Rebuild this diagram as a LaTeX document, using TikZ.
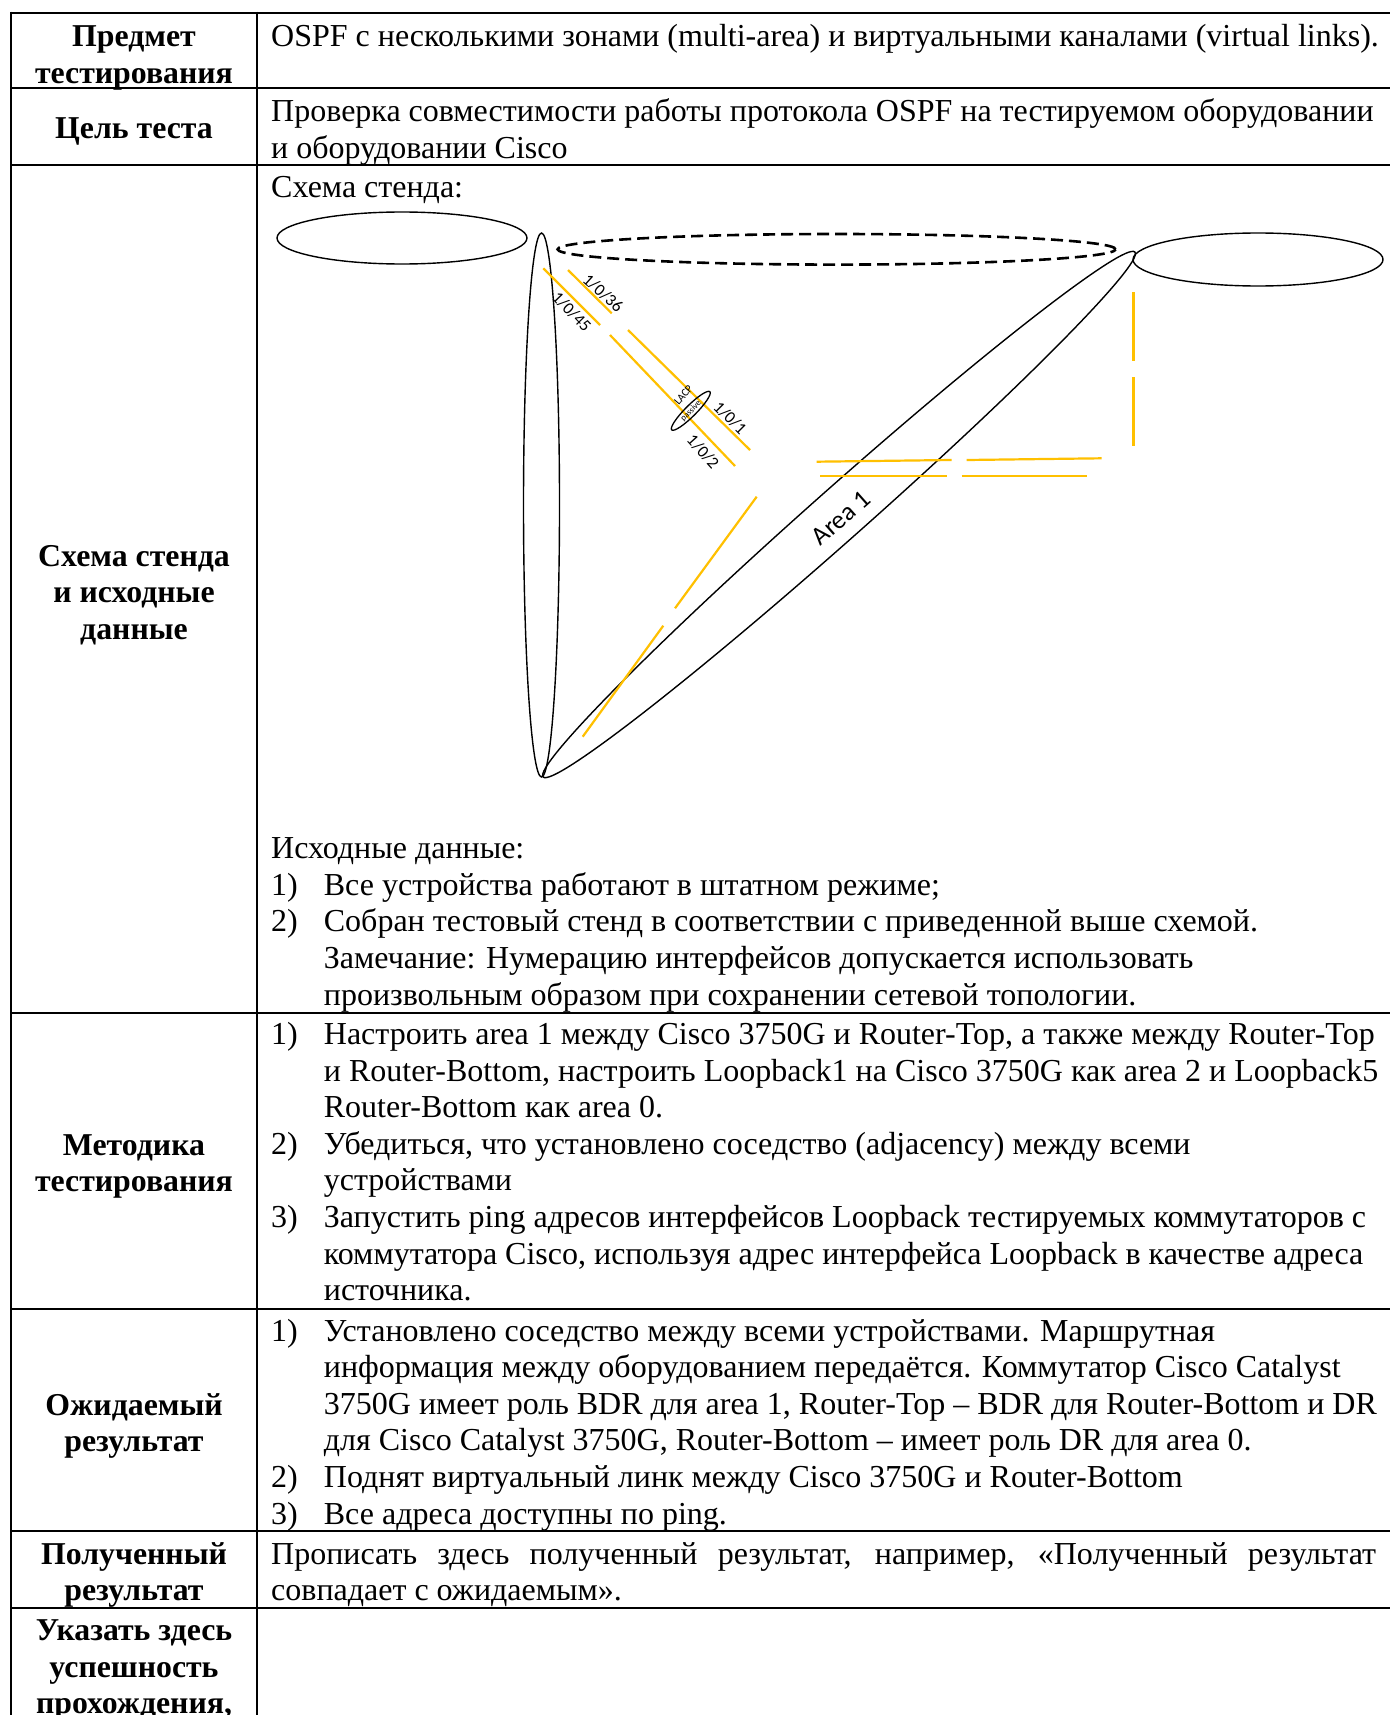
\documentclass[tikz,border=0pt]{standalone}
\usepackage{fontspec}
\setmainfont{Liberation Serif}
\newfontfamily\carl{Carlito}
\usetikzlibrary{shapes.geometric}
\definecolor{gold}{RGB}{255,192,0}
\begin{document}
\begin{tikzpicture}[x=1pt,y=1pt,
  gridline/.style={line width=2.6pt},
  hdr/.style={font=\fontsize{31.8}{36.6}\selectfont\bfseries, anchor=base, inner sep=0pt},
  txt/.style={font=\fontsize{32}{36.6}\selectfont, anchor=base west, inner sep=0pt},
  oval/.style={draw, ellipse, line width=1.4pt, inner sep=0pt, outer sep=0pt},
  link/.style={draw=gold, line width=2.2pt},
  plbl/.style={font=\carl\fontsize{17}{17}\selectfont, inner sep=0pt},
]
\useasboundingbox (0,0) rectangle (1390,-1715);
\fill[white] (0,0) rectangle (1390,-1715);

% ---------- table grid ----------
\draw[gridline] (11,-13) -- (1390,-13);
\foreach \yy in {88,165,1013,1309,1531,1608}
  \draw[gridline] (11,-\yy) -- (1390,-\yy);
\draw[gridline] (11,-11.7) -- (11,-1715);
\draw[gridline] (257,-11.7) -- (257,-1715);

% ---------- headers ----------
\node[hdr] (h1a) at (134,-46.5) {Предмет};
\node[hdr] (h1b) at (134,-83.1) {тестирования};
\node[hdr] (h2)  at (134,-139) {Цель теста};
\node[hdr] (h3a) at (134,-566) {Схема стенда};
\node[hdr] (h3b) at (134,-602.6) {и исходные};
\node[hdr] (h3c) at (134,-639.2) {данные};
\node[hdr] (h4a) at (134,-1155) {Методика};
\node[hdr] (h4b) at (134,-1191.6) {тестирования};
\node[hdr] (h5a) at (134,-1415) {Ожидаемый};
\node[hdr] (h5b) at (134,-1451.6) {результат};
\node[hdr] (h6a) at (134,-1564) {Полученный};
\node[hdr] (h6b) at (134,-1600.6) {результат};
\node[hdr] (h7a) at (134,-1640.5) {Указать здесь};
\node[hdr] (h7b) at (134,-1677.1) {успешность};
\node[hdr] (h7c) at (134,-1713.7) {прохождения,};

% ---------- row 1, 2 ----------
\node[txt] (r1) at (271,-46.5) {OSPF с несколькими зонами (multi-area) и виртуальными каналами (virtual links).};
\node[txt] (r2a) at (271,-121.5) {Проверка совместимости работы протокола OSPF на тестируемом оборудовании};
\node[txt] (r2b) at (271,-158.1) {и оборудовании Cisco};

% ---------- row 3 ----------
\node[txt] (r3a) at (271,-197) {Схема стенда:};
\node[txt] (r3b) at (271,-858.6) {Исходные данные:};
\node[txt] (r3n1) at (271,-895.2) {1)};
\node[txt] (r3c) at (323.7,-895.2) {Все устройства работают в штатном режиме;};
\node[txt] (r3n2) at (271,-931.8) {2)};
\node[txt] (r3d) at (323.7,-931.8) {Собран тестовый стенд в соответствии с приведенной выше схемой.};
\node[txt] (r3e) at (323.7,-968.4) {Замечание: Нумерацию интерфейсов допускается использовать};
\node[txt] (r3f) at (323.7,-1005) {произвольным образом при сохранении сетевой топологии.};

% ---------- row 4 ----------
\node[txt] (r4n1) at (271,-1044.5) {1)};
\node[txt] (r4a) at (323.7,-1044.5) {Настроить area 1 между Cisco 3750G и Router-Top, а также между Router-Top};
\node[txt] (r4b) at (323.7,-1081.1) {и Router-Bottom, настроить Loopback1 на Cisco 3750G как area 2 и Loopback5};
\node[txt] (r4c) at (323.7,-1117.7) {Router-Bottom как area 0.};
\node[txt] (r4n2) at (271,-1154.3) {2)};
\node[txt] (r4d) at (323.7,-1154.3) {Убедиться, что установлено соседство (adjacency) между всеми};
\node[txt] (r4e) at (323.7,-1190.9) {устройствами};
\node[txt] (r4n3) at (271,-1227.5) {3)};
\node[txt] (r4f) at (323.7,-1227.5) {Запустить ping адресов интерфейсов Loopback тестируемых коммутаторов с};
\node[txt] (r4g) at (323.7,-1264.1) {коммутатора Cisco, используя адрес интерфейса Loopback в качестве адреса};
\node[txt] (r4h) at (323.7,-1300.7) {источника.};

% ---------- row 5 ----------
\node[txt] (r5n1) at (271,-1341) {1)};
\node[txt] (r5a) at (323.7,-1341) {Установлено соседство между всеми устройствами. Маршрутная};
\node[txt] (r5b) at (323.7,-1377.6) {информация между оборудованием передаётся. Коммутатор Cisco Catalyst};
\node[txt] (r5c) at (323.7,-1414.2) {3750G имеет роль BDR для area 1, Router-Top – BDR для Router-Bottom и DR};
\node[txt] (r5d) at (323.7,-1450.8) {для Cisco Catalyst 3750G, Router-Bottom – имеет роль DR для area 0.};
\node[txt] (r5n2) at (271,-1487.4) {2)};
\node[txt] (r5e) at (323.7,-1487.4) {Поднят виртуальный линк между Cisco 3750G и Router-Bottom};
\node[txt] (r5n3) at (271,-1524) {3)};
\node[txt] (r5f) at (323.7,-1524) {Все адреса доступны по ping.};

% ---------- row 6 ----------
\node[txt] (r6a) at (271,-1564) {\makebox[1105pt][s]{Прописать здесь полученный результат, например, «Полученный результат}};
\node[txt] (r6b) at (271,-1600.6) {совпадает с ожидаемым».};

% ---------- diagram ----------
\node[oval, minimum width=250pt, minimum height=52pt] (devL) at (402,-238) {};
\node[oval, minimum width=250pt, minimum height=53pt] (devR) at (1258,-259.5) {};
\node[oval, dashed, line width=2.6pt, dash pattern=on 12pt off 6pt,
      minimum width=558pt, minimum height=30.6pt] (vlink) at (836.6,-249.3) {};
\node[oval, minimum width=36pt, minimum height=544pt] (vert) at (541.5,-505) {};
\node[oval, rotate=41.57, minimum width=791pt, minimum height=52pt] (area1) at (839,-514.5) {};
\node[font=\carl\fontsize{26}{26}\selectfont, rotate=41.57, inner sep=0pt] (area1lbl) at (841,-518) {Area 1};

% LACP bundle
\draw[link] (543.3,-268.3) -- (600,-325);
\draw[link] (610,-335) -- (735,-466);
\draw[link] (568,-270) -- (611.7,-313.3);
\draw[link] (628,-330) -- (750,-450);
\node[oval, rotate=45, minimum width=54pt, minimum height=11pt, line width=1.3pt] (lacp) at (690.8,-410.8) {};
\node[font=\carl\fontsize{11}{11}\selectfont, rotate=50, inner sep=0pt] (lacplbl) at (683.3,-395) {LACP};
\node[font=\carl\fontsize{8.5}{8.5}\selectfont, rotate=45, inner sep=0pt] (passlbl) at (691,-411) {passive};
\node[plbl, rotate=-42] (p36) at (603,-293) {1/0/36};
\node[plbl, rotate=-46] (p45) at (571.7,-311.7) {1/0/45};
\node[plbl, rotate=-45] (p1) at (730,-418) {1/0/1};
\node[plbl, rotate=-48] (p2) at (703,-451.7) {1/0/2};

% other links
\draw[link] (816.7,-461.7) -- (951.7,-460);
\draw[link] (966.7,-460) -- (1101.7,-458.3);
\draw[link] (820,-476) -- (946.7,-476);
\draw[link] (961.7,-476) -- (1087.3,-476);
\draw[link] (1133.5,-292) -- (1133.5,-361);
\draw[link] (1133.5,-377) -- (1133.5,-446);
\draw[link] (756.7,-496.7) -- (675,-608.3);
\draw[link] (663.3,-625.7) -- (582.7,-736.7);
\end{tikzpicture}
\end{document}
